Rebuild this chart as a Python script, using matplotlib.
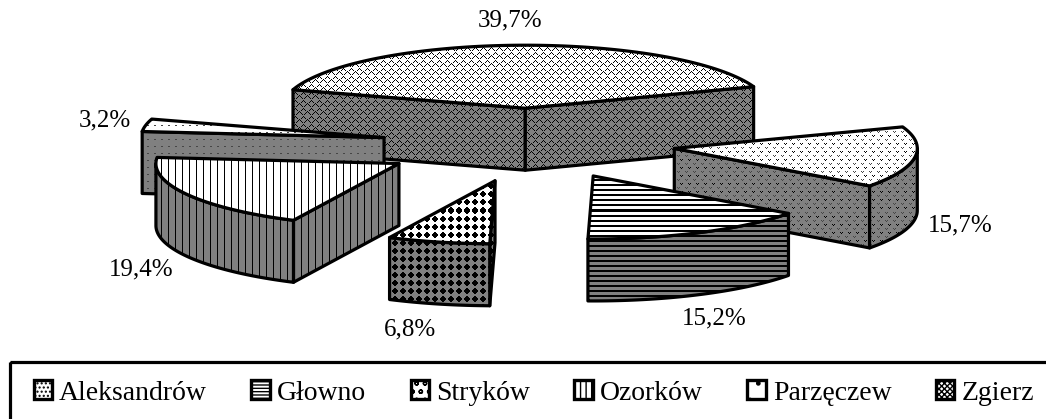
import numpy as np
import matplotlib
matplotlib.use("Agg")
import matplotlib.pyplot as plt
from matplotlib.patches import Polygon, Patch, Rectangle

names = ["Aleksandrów", "Głowno", "Stryków", "Ozorków", "Parzęczew", "Zgierz"]
shares = [15.7, 15.2, 6.8, 19.4, 3.2, 39.7]

plt.rcParams['font.family'] = ['Liberation Serif', 'DejaVu Serif']
plt.rcParams['hatch.linewidth'] = 1.0

W, H = 1046, 419
cx, cy = 529, 144      # pie centre before exploding
rx, ry = 243, 63
depth = 62
explode = 0.6
start = 20.0

# small shifts per slice, the original has a bit of perspective
nudge = [(1, -1), (0, -2), (0, 0), (-3, 1), (-2, 1), (0, 2)]
# label centres in pixels
label_pos = [(960, 225), (714, 318), (410, 329), (141, 269), (105, 120), (510, 20)]
draw_order = [5, 4, 0, 1, 3, 2]
legend_hatch = ['....', '-----', 'oo', '|||', '.', 'xxxxxx']

# fill patterns, # = black, o = dark grey
tiles = [
    ["#.#.....", ".#......", "........", "........",
     ".....o.o", "......o.", "........", "........"],
    ["#####", "#####", ".....", ".....", "....."],
    ["..##....", ".####...", "######..", "######..", ".####...", "..##....", "........", "........"],
    ["#......"] * 7,
    ["oo.....", ".......", ".......", ".......", ".......", ".......", "......."],
    ["...#....", "..#.#...", ".#...#..", "#.....#.", "........",
     ".......#", "#.....#.", ".#...#.."],
]


def texture(tile, bg):
    t = np.array([[{'#': 0, 'o': 70, '.': bg}[c] for c in row] for row in tile])
    ny = H // t.shape[0] + 1
    nx = W // t.shape[1] + 1
    return np.tile(t, (ny, nx))[:H, :W]


def face(ax, pts, tile, bg, z):
    im = ax.imshow(texture(tile, bg), cmap='gray', vmin=0, vmax=255,
                   extent=(0, W, H, 0), interpolation='nearest', aspect='auto', zorder=z)
    clip = Polygon(pts, closed=True, transform=ax.transData)
    im.set_clip_path(clip)
    ax.add_patch(Polygon(pts, closed=True, fill=False, edgecolor='black', linewidth=2.3,
                         joinstyle='round', zorder=z + 0.5))


def on_ellipse(x0, y0, deg):
    a = np.radians(deg)
    return np.column_stack([x0 + rx * np.cos(a), y0 - ry * np.sin(a)])


fig = plt.figure(figsize=(W / 100, H / 100), dpi=100)
ax = fig.add_axes([0, 0, 1, 1])

# slice angles going clockwise from the start angle
sweep = np.array(shares) / 100 * 360
a0 = start - np.concatenate([[0], np.cumsum(sweep)[:-1]])
a1 = a0 - sweep

z = 1
for i in draw_order:
    mid = np.radians((a0[i] + a1[i]) / 2)
    tx = cx + explode * rx * np.cos(mid) + nudge[i][0]
    ty = cy - explode * ry * np.sin(mid) + nudge[i][1]
    tip = np.array([[tx, ty]])
    drop = np.array([0, depth])

    # radial walls that face the viewer
    for ang, normal in ((a0[i], a0[i] + 90), (a1[i], a1[i] - 90)):
        if np.sin(np.radians(normal)) < 0:
            edge = np.vstack([tip, on_ellipse(tx, ty, np.array([ang]))])
            wall = np.vstack([edge, edge[::-1] + drop])
            face(ax, wall, tiles[i], 128, z)
            z += 1

    # outer curved side, front half only
    arc = np.linspace(a0[i], a1[i], 300)
    front = arc[np.sin(np.radians(arc)) <= 0]
    if len(front) > 1:
        rim = on_ellipse(tx, ty, front)
        face(ax, np.vstack([rim, rim[::-1] + drop]), tiles[i], 128, z)
        z += 1

    top = np.vstack([tip, on_ellipse(tx, ty, arc)])
    face(ax, top, tiles[i], 255, z)
    z += 1

for share, (lx, ly) in zip(shares, label_pos):
    ax.text(lx, ly, f"{share:.1f}%".replace('.', ','), fontsize=18, ha='center', va='center',
            zorder=z)

# legend box runs off the bottom and right of the picture
ax.add_patch(Rectangle((10, 362), 1100, 120, fill=False, edgecolor='black', linewidth=2.3,
                       zorder=z))
handles = [Patch(facecolor='white', edgecolor='black', linewidth=2.4, hatch=h) for h in legend_hatch]
ax.legend(handles, names, ncol=6, loc='center left', bbox_to_anchor=(33.5, 393),
          bbox_transform=ax.transData, frameon=False, fontsize=20, borderpad=0, borderaxespad=0,
          handlelength=0.66, handleheight=0.66, handletextpad=0.26, columnspacing=1.6)

ax.set_xlim(0, W)
ax.set_ylim(H, 0)
ax.axis('off')
fig.savefig("out.png", dpi=100, facecolor='white')
